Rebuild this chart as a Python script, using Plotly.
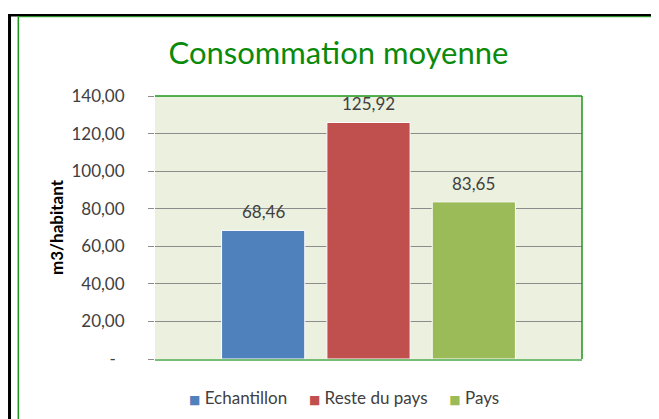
import plotly.graph_objects as go

# donnees du graphique
series = ["Echantillon", "Reste du pays", "Pays"]
valeurs = [68.46, 125.92, 83.65]
couleurs = ["#4F81BD", "#C0504D", "#9BBB59"]
categorie = ["Consommation moyenne"]

tick_vals = [0, 20, 40, 60, 80, 100, 120, 140]
tick_text = ["-\u00a0\u00a0", "20,00", "40,00", "60,00", "80,00", "100,00", "120,00", "140,00"]

police = "Lato, 'Open Sans', sans-serif"
vert = "#1A961A"

# zone de trace (la page html ajoute 8px de marge autour)
marge = dict(l=147, r=85, t=88, b=68)
larg_trace = 659 - marge["l"] - marge["r"]
ecart_barres = 0.26
pas_serie = larg_trace * (1 - ecart_barres) / len(series)

fig = go.Figure()

for i, (nom, val, coul) in enumerate(zip(series, valeurs, couleurs)):
    fig.add_trace(go.Bar(
        x=categorie, y=[val], name=nom,
        marker=dict(color=coul, line=dict(color="white", width=1)),
        showlegend=False,
    ))
    # etiquette de donnee au dessus de chaque barre
    fig.add_annotation(
        x=categorie[0], y=val, text=f"{val:.2f}".replace(".", ","),
        xshift=(i - (len(series) - 1) / 2) * pas_serie, yshift=6,
        yanchor="bottom", showarrow=False,
        font=dict(family=police, size=17, color="#404040"),
    )

# legende en bas
items = []
for nom, coul in zip(series, couleurs):
    items.append(f"<span style='font-family:DejaVu Sans;font-size:12px;color:{coul}'>■</span> {nom}")
fig.add_annotation(
    xref="paper", yref="paper", x=0.4415, y=-0.1464, xanchor="center", yanchor="middle",
    text=("\u00a0" * 5).join(items), showarrow=False,
    font=dict(family=police, size=17, color="#404040"),
)

fig.update_layout(
    width=659, height=419,
    margin=marge,
    paper_bgcolor="white",
    plot_bgcolor="#EBF0DF",
    barmode="group",
    bargap=ecart_barres,
    bargroupgap=0.21,
    font=dict(family=police, color="#404040"),
    title=dict(text="Consommation moyenne", x=0.5015, xanchor="center",
               y=0.893, yanchor="middle",
               font=dict(family=police, size=31, color="#0A8A0A")),
    showlegend=False,
)

fig.update_xaxes(showticklabels=False, showgrid=False, zeroline=False,
                 showline=True, linecolor="#77BF77", linewidth=2, ticks="")
fig.update_yaxes(range=[0, 140], tickvals=tick_vals, ticktext=tick_text,
                 automargin=False,
                 showgrid=True, gridcolor="#8C8C8C", gridwidth=1,
                 zeroline=False, showline=False,
                 ticks="outside", ticklen=6, tickcolor="#8C8C8C",
                 ticklabelstandoff=20,
                 tickfont=dict(family=police, size=17, color="#404040"),
                 title=dict(text="<b>m3/habitant</b>", standoff=3,
                            font=dict(family=police, size=17, color="black")))

# cadre de la zone de trace (haut et droite en vert)
fig.add_shape(type="line", xref="paper", yref="paper", x0=0, x1=1, y0=1, y1=1,
              line=dict(color=vert, width=1.5))
fig.add_shape(type="line", xref="paper", yref="paper", x0=1, x1=1, y0=0, y1=1,
              line=dict(color=vert, width=1.5))

# bordures du tableau et du graphique autour
fig.add_shape(type="line", xref="paper", yref="paper", x0=-0.4, x1=1.3, y0=1.3068, y1=1.3068,
              line=dict(color="black", width=2.5))
fig.add_shape(type="line", xref="paper", yref="paper", x0=-0.3407, x1=-0.3407, y0=1.311, y1=-0.3,
              line=dict(color="black", width=3))
fig.add_shape(type="line", xref="paper", yref="paper", x0=-0.3201, x1=-0.3201, y0=1.3015, y1=-0.3,
              line=dict(color=vert, width=1.5))
fig.add_shape(type="line", xref="paper", yref="paper", x0=-0.3201, x1=1.3, y0=1.3015, y1=1.3015,
              line=dict(color=vert, width=1))

fig.write_html("out.html")
